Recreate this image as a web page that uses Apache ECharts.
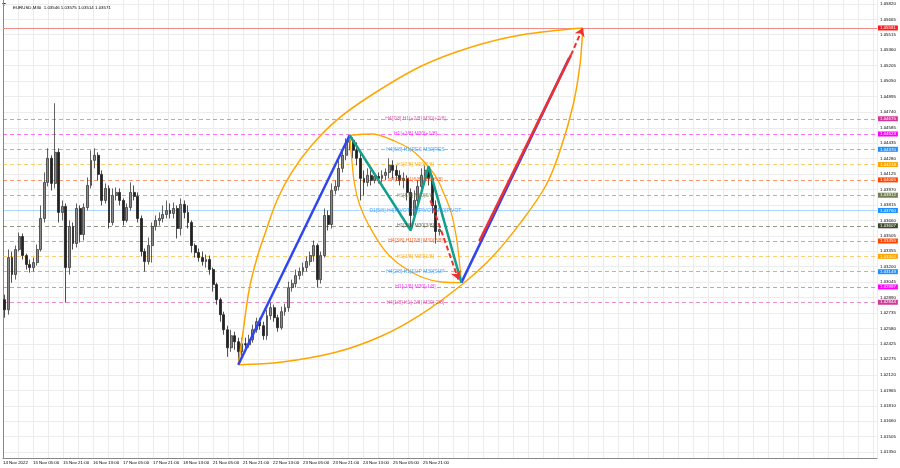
<!DOCTYPE html>
<html><head><meta charset="utf-8">
<script src="https://cdn.jsdelivr.net/npm/echarts@6/dist/echarts.min.js"></script>
<style>html,body{margin:0;padding:0;background:#fff}#c{width:900px;height:468px}</style>
</head><body><div id="c"></div>
<script>
// ---------- data ----------
const titleText = 'EURUSD,M30  1.03546 1.03575 1.03514 1.03571';
const xLabels = ['14 Nov 2022','15 Nov 05:00','15 Nov 21:00','16 Nov 13:00','17 Nov 05:00','17 Nov 21:00','18 Nov 13:00','21 Nov 05:00','21 Nov 21:00','22 Nov 13:00','23 Nov 05:00','23 Nov 21:00','24 Nov 13:00','25 Nov 05:00','25 Nov 21:00'];
const priceTicks = [1.05820,1.05665,1.05515,1.05360,1.05205,1.05050,1.04895,1.04740,1.04585,1.04435,1.04280,1.04125,1.03970,1.03815,1.03660,1.03505,1.03355,1.03200,1.03045,1.02890,1.02735,1.02580,1.02425,1.02275,1.02120,1.01965,1.01810,1.01660,1.01505,1.01350];

// [open, close, low, high]
const candles = [
[1.0287,1.0277,1.0269,1.0292],[1.0277,1.0329,1.0272,1.0337],[1.0329,1.0312,1.0304,1.0335],[1.0312,1.0337,1.0307,1.0341],
[1.0337,1.0350,1.0335,1.0354],[1.0350,1.0331,1.0327,1.0353],[1.0331,1.0322,1.0317,1.0333],[1.0322,1.0319,1.0314,1.0327],
[1.0319,1.0324,1.0315,1.0329],[1.0324,1.0337,1.0321,1.0342],[1.0337,1.0368,1.0335,1.0381],[1.0368,1.0404,1.0364,1.0414],
[1.0404,1.0428,1.0400,1.0438],[1.0428,1.0403,1.0396,1.0431],[1.0403,1.0434,1.0398,1.0483],[1.0434,1.0374,1.0364,1.0438],
[1.0374,1.0380,1.0366,1.0386],[1.0380,1.0319,1.0284,1.0383],[1.0319,1.0360,1.0312,1.0366],[1.0360,1.0343,1.0337,1.0364],
[1.0343,1.0378,1.0339,1.0383],[1.0378,1.0352,1.0344,1.0381],[1.0352,1.0379,1.0346,1.0383],[1.0379,1.0401,1.0376,1.0409],
[1.0401,1.0426,1.0398,1.0436],[1.0426,1.0431,1.0418,1.0438],[1.0431,1.0412,1.0406,1.0434],[1.0412,1.0386,1.0381,1.0416],
[1.0386,1.0398,1.0383,1.0403],[1.0398,1.0364,1.0358,1.0401],[1.0364,1.0391,1.0361,1.0398],[1.0391,1.0394,1.0386,1.0399],
[1.0394,1.0386,1.0381,1.0398],[1.0386,1.0366,1.0361,1.0388],[1.0366,1.0379,1.0364,1.0383],[1.0379,1.0394,1.0376,1.0404],
[1.0394,1.0390,1.0386,1.0401],[1.0390,1.0368,1.0364,1.0394],[1.0368,1.0335,1.0330,1.0371],[1.0335,1.0325,1.0315,1.0338],
[1.0325,1.0341,1.0322,1.0349],[1.0341,1.0360,1.0324,1.0364],[1.0360,1.0366,1.0356,1.0371],[1.0366,1.0368,1.0361,1.0374],
[1.0368,1.0372,1.0364,1.0381],[1.0372,1.0376,1.0368,1.0386],[1.0376,1.0373,1.0368,1.0383],[1.0373,1.0378,1.0368,1.0384],
[1.0378,1.0358,1.0348,1.0381],[1.0358,1.0382,1.0351,1.0388],[1.0382,1.0374,1.0368,1.0386],[1.0374,1.0364,1.0358,1.0381],
[1.0364,1.0341,1.0334,1.0366],[1.0341,1.0334,1.0329,1.0343],[1.0334,1.0329,1.0325,1.0338],[1.0329,1.0325,1.0321,1.0335],
[1.0325,1.0327,1.0319,1.0332],[1.0327,1.0317,1.0312,1.0331],[1.0317,1.0302,1.0295,1.0319],[1.0302,1.0287,1.0282,1.0304],
[1.0287,1.0272,1.0265,1.0289],[1.0272,1.0257,1.0252,1.0275],[1.0257,1.0239,1.0230,1.0261],[1.0239,1.0251,1.0235,1.0257],
[1.0251,1.0245,1.0237,1.0255],[1.0245,1.0235,1.0222,1.0249],[1.0235,1.0243,1.0231,1.0249],[1.0243,1.0242,1.0237,1.0249],
[1.0242,1.0247,1.0239,1.0252],[1.0247,1.0257,1.0244,1.0262],[1.0257,1.0265,1.0254,1.0269],[1.0265,1.0261,1.0257,1.0269],
[1.0261,1.0251,1.0247,1.0265],[1.0251,1.0271,1.0247,1.0277],[1.0271,1.0279,1.0267,1.0284],[1.0279,1.0269,1.0265,1.0282],
[1.0269,1.0259,1.0255,1.0272],[1.0259,1.0275,1.0257,1.0280],[1.0275,1.0279,1.0271,1.0283],[1.0279,1.0299,1.0275,1.0305],
[1.0299,1.0303,1.0295,1.0307],[1.0303,1.0311,1.0299,1.0317],[1.0311,1.0315,1.0307,1.0319],[1.0315,1.0319,1.0311,1.0324],
[1.0319,1.0325,1.0315,1.0330],[1.0325,1.0331,1.0321,1.0335],[1.0331,1.0341,1.0325,1.0346],[1.0341,1.0307,1.0299,1.0343],
[1.0307,1.0331,1.0303,1.0335],[1.0331,1.0371,1.0329,1.0378],[1.0371,1.0362,1.0356,1.0376],[1.0362,1.0396,1.0358,1.0403],
[1.0396,1.0400,1.0392,1.0406],[1.0400,1.0418,1.0396,1.0426],[1.0418,1.0431,1.0414,1.0438],[1.0431,1.0444,1.0426,1.0448],
[1.0444,1.0446,1.0436,1.0451],[1.0446,1.0436,1.0428,1.0449],[1.0436,1.0428,1.0421,1.0444],[1.0428,1.0408,1.0386,1.0433],
[1.0408,1.0404,1.0391,1.0416],[1.0404,1.0411,1.0400,1.0418],[1.0411,1.0406,1.0401,1.0416],[1.0406,1.0410,1.0403,1.0414],
[1.0410,1.0408,1.0403,1.0414],[1.0408,1.0411,1.0404,1.0416],[1.0411,1.0414,1.0406,1.0418],[1.0414,1.0421,1.0408,1.0428],
[1.0421,1.0416,1.0408,1.0426],[1.0416,1.0411,1.0406,1.0421],[1.0411,1.0406,1.0401,1.0416],[1.0406,1.0408,1.0398,1.0414],
[1.0408,1.0394,1.0386,1.0411],[1.0394,1.0371,1.0356,1.0398],[1.0371,1.0386,1.0368,1.0396],[1.0386,1.0400,1.0381,1.0406],
[1.0400,1.0411,1.0396,1.0418],[1.0411,1.0416,1.0406,1.0421],[1.0416,1.0408,1.0401,1.0420],[1.0408,1.0381,1.0373,1.0411],
[1.0381,1.0355,1.0343,1.0386],[1.0355,1.0357,1.0351,1.0358]
];

const murreyLevels = [1.04675,1.04523,1.04370,1.04218,1.04065,1.03912,1.03760,1.03607,1.03455,1.03302,1.03149,1.02997,1.02844];
const murreyNames = ['H4[7/8] H1[+2/8] M30[+2/8]','H1[+1/8] M30[+1/8]','H4[6/8] H1[RES M30[RES','H1[7/8] M30[7/8]','H4[5/8] H1[6/8] M30[6/8]','H1[5/8] M30[5/8]','D1[5/8] H4[PIVOT H1[PIVOT M30[PIVOT','H1[3/8] M30[3/8]','H4[3/8] H1[2/8] M30[2/8]','H1[1/8] M30[1/8]','H4[2/8] H1[SUP M30[SUP','H1[-1/8] M30[-1/8]','H4[1/8] H1[-2/8] M30[-2/8]'];
const targetLevel = 1.05581;

// pattern points [bar slot, price]
const ptX = [65.5, 1.0222];
const ptA = [96.5, 1.0451];
const ptB = [113.5, 1.0356];
const ptC = [118.5, 1.0420];
const ptD = [127.6, 1.0304];
const blueTarget = [157.6, 1.0528];
const redStart = [132.6, 1.03455];
const redSolidEnd = [158.1, 1.0531];
const targetPt = [161.4, 1.05581];
const dashStart = [119.0, 1.0386];
const dashEnd = [126.8, 1.0307];

const arcBigUpper = [[65.5,1.0222],[66.9,1.02567],[68.5,1.02966],[70.7,1.03285],[73.0,1.03535],[76.3,1.03864],[80.4,1.04143],[86.0,1.04413],[92.9,1.04662],[102.6,1.04912],[116.5,1.05201],[130.4,1.05391],[144.2,1.05511],[161.4,1.05581]];
const arcBigLower = [[65.5,1.0222],[77.7,1.02247],[92.9,1.02347],[105.4,1.02507],[116.5,1.02726],[127.6,1.03016],[135.9,1.03285],[144.2,1.03644],[151.2,1.04014],[155.3,1.04383],[158.7,1.04812],[160.6,1.05211],[161.4,1.05581]];
const arcSmallUpper = [[96.5,1.0451],[102.6,1.04523],[109.0,1.04453],[113.7,1.04363],[117.3,1.04243],[120.7,1.04084],[122.9,1.03914],[124.8,1.03734],[126.2,1.03495],[127.0,1.03265],[127.6,1.0304]];
const arcSmallLower = [[96.5,1.0451],[97.1,1.04263],[97.9,1.04014],[99.3,1.03814],[101.8,1.03615],[106.2,1.03365],[111.0,1.03205],[116.5,1.03096],[122.1,1.03046],[127.6,1.0304]];

// ---------- styles ----------
const FONT = 'Liberation Sans';
const murreyColors = ['#d2389a','#ff00ff','#1e90ff','#ffa500','#ff4500','#6f7f52','#1e90ff','#3b472c','#ff4500','#ffa500','#1e90ff','#ff00ff','#d2389a'];
const SLOT_MAX = 243.3;      // plot width / bar slot width
const LABEL_STEP = 4.175;    // grid step (half label spacing)
const MURREY_TEXT_SLOT = 114.8;

function fade(hex, a) {
  const n = parseInt(hex.slice(1), 16);
  return 'rgba(' + ((n >> 16) & 255) + ',' + ((n >> 8) & 255) + ',' + (n & 255) + ',' + a + ')';
}

const chart = echarts.init(document.getElementById('c'), null, {renderer: 'canvas'});

function lineSeries(data, color, width, z, extra) {
  return Object.assign({
    type: 'line', data: data, symbol: 'none', silent: true, z: z,
    lineStyle: {color: color, width: width}, animation: false
  }, extra || {});
}

const option = {
  animation: false,
  backgroundColor: '#ffffff',
  textStyle: {fontFamily: FONT},
  title: {text: titleText, left: 8, top: 1, textStyle: {fontSize: 4.4, fontWeight: 'normal', color: '#000', fontFamily: FONT}},
  graphic: [{type: 'polygon', left: 2, top: 3, shape: {points: [[0,0],[4,0],[2,3]]}, style: {fill: '#333'}}],
  grid: {left: 0, right: 23, top: 0, bottom: 10, containLabel: false},
  xAxis: {
    type: 'value', min: 0, max: SLOT_MAX, interval: LABEL_STEP,
    axisLine: {show: true, lineStyle: {color: '#888', width: 1}},
    axisTick: {show: false},
    splitLine: {show: true, lineStyle: {color: '#ececec', width: 1}},
    axisLabel: {
      show: true, fontSize: 4.4, color: '#000', fontFamily: FONT, align: 'left', margin: 3,
      showMinLabel: true, showMaxLabel: false, hideOverlap: false,
      formatter: function (v, idx) { return (idx % 2 === 0 && xLabels[idx / 2]) ? xLabels[idx / 2] : ''; }
    }
  },
  yAxis: {
    type: 'value', position: 'right', min: 1.0129, max: 1.0586, scale: true,
    axisLine: {show: true, lineStyle: {color: '#888', width: 1}},
    axisTick: {show: false},
    splitLine: {show: false},
    axisLabel: {
      show: true, customValues: priceTicks, fontSize: 4.4, color: '#000', fontFamily: FONT, margin: 3,
      formatter: function (v) { return v.toFixed(5); }
    }
  },
  series: [
    // horizontal grid
    {type: 'line', data: [], silent: true, z: 0,
     markLine: {silent: true, symbol: ['none','none'], animation: false, z: 0, precision: 5,
       label: {show: false}, lineStyle: {color: '#ececec', width: 1, type: 'solid'},
       data: priceTicks.map(v => ({yAxis: v}))}},
    // target level line
    {type: 'line', data: [], silent: true, z: 1,
     markLine: {silent: true, symbol: ['none','none'], animation: false, z: 1, precision: 5,
       data: [{yAxis: targetLevel, lineStyle: {color: '#f58a8a', width: 1, type: 'solid'},
         label: {show: true, position: 'end', distance: 1, formatter: targetLevel.toFixed(5), color: '#fff', backgroundColor: '#ff1a1a', padding: [1,2,0,2], fontSize: 4.4, fontFamily: FONT}}]}},
    // murrey levels
    {type: 'line', data: [], silent: true, z: 1,
     markLine: {silent: true, symbol: ['none','none'], animation: false, z: 1, precision: 5,
       data: murreyLevels.map((v, i) => ({yAxis: v,
         lineStyle: {color: fade(murreyColors[i], i === 6 ? 0.35 : 0.55), width: 1, type: i === 6 ? 'solid' : [4, 3]},
         label: {show: true, position: 'end', distance: 1, formatter: v.toFixed(5), color: '#fff', backgroundColor: murreyColors[i], padding: [1,2,0,2], fontSize: 4.4, fontFamily: FONT}}))}},
    // candles
    {type: 'candlestick', z: 2, silent: true, barWidth: 2.4,
     encode: {x: 0, y: [1, 2, 3, 4]},
     data: candles.map((c, i) => [i + 0.5, c[0], c[1], c[2], c[3]]),
     itemStyle: {color: '#8a8a8a', color0: '#222222', borderColor: '#3a3a3a', borderColor0: '#222222', borderWidth: 0.8}},
    // orange arcs
    lineSeries(arcBigUpper, '#ffa500', 1.5, 3, {smooth: 0.35}),
    lineSeries(arcBigLower, '#ffa500', 1.5, 3, {smooth: 0.35}),
    lineSeries(arcSmallUpper, '#ffa500', 1.3, 3, {smooth: 0.35}),
    lineSeries(arcSmallLower, '#ffa500', 1.3, 3, {smooth: 0.35}),
    // blue legs
    lineSeries([ptX, ptA], '#2f45f0', 2.5, 4),
    lineSeries([ptD, blueTarget], '#2f45f0', 2.5, 4),
    // teal zigzag
    lineSeries([ptA, ptB, ptC, ptD], '#13a08a', 2.5, 4),
    // red projection
    lineSeries([redStart, redSolidEnd], '#ef3030', 2.5, 5),
    {type: 'line', data: [], silent: true, z: 5,
     markLine: {silent: true, animation: false, z: 5, symbol: ['none', 'arrow'], symbolSize: 8, precision: 5,
       label: {show: false},
       lineStyle: {color: '#ef3030', width: 2, type: [5, 3]},
       data: [[{coord: redSolidEnd}, {coord: targetPt}], [{coord: dashStart}, {coord: dashEnd}]]}},
    // murrey texts
    {type: 'scatter', z: 6, silent: true, symbolSize: 1,
     itemStyle: {color: 'rgba(0,0,0,0)'},
     label: {show: true, position: 'inside', fontSize: 5, fontFamily: FONT, formatter: p => p.name},
     data: murreyLevels.map((v, i) => ({name: murreyNames[i], value: [MURREY_TEXT_SLOT, v], label: {color: murreyColors[i]}}))}
  ]
};
chart.setOption(option);
</script>
</body></html>
